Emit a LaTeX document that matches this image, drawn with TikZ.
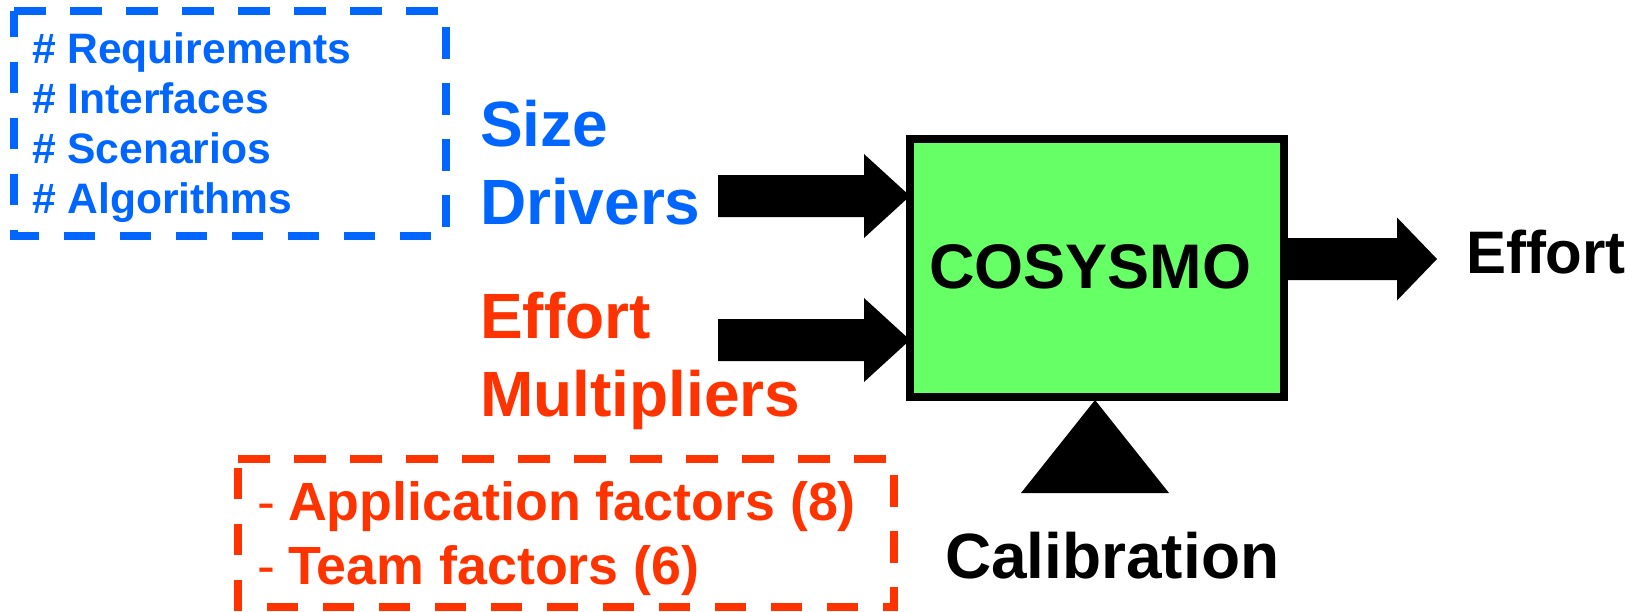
\documentclass[tikz,border=0pt]{standalone}
\usepackage{fontspec}
\setmainfont{Liberation Sans}
\usetikzlibrary{calc}
\definecolor{cblue}{HTML}{0066FF}
\definecolor{cred}{HTML}{FF3300}
\definecolor{cgreen}{HTML}{66FF66}
% block arrow: from, to, half shaft width, head length, half head width
\newcommand{\blockarrow}[5]{%
  \fill ($(#1)+(0,-#3)$) -- ($(#2)+(-#4,-#3)$) -- ($(#2)+(-#4,-#5)$) -- (#2)
    -- ($(#2)+(-#4,#5)$) -- ($(#2)+(-#4,#3)$) -- ($(#1)+(0,#3)$) -- cycle;}
\begin{document}
\begin{tikzpicture}[x=1pt,y=-1pt,
  txt/.style={inner sep=0pt, outer sep=0pt, anchor=base west},
  listblue/.style={txt, text=cblue, font=\fontsize{42.6}{50}\selectfont\bfseries},
  bigblue/.style={txt, text=cblue, font=\fontsize{64}{77}\selectfont\bfseries},
  bigred/.style={txt, text=cred, font=\fontsize{64}{77}\selectfont\bfseries},
  bigblack/.style={txt, text=black, font=\fontsize{64}{77}\selectfont\bfseries},
  listred/.style={txt, text=cred, font=\fontsize{53.8}{64}\selectfont\bfseries},
  dashbox/.style={line width=7.5pt, dash pattern=on 31.5pt off 24.5pt, line cap=butt}]
\useasboundingbox (0,0) rectangle (1639,611);

% size drivers list
\draw[dashbox, cblue] (14,11) -- (446,11) -- (446,236) -- (14,236) -- cycle;
\node[listblue] (req) at (32,63) {\# Requirements};
\node[listblue] (int) at (32,113) {\# Interfaces};
\node[listblue] (sce) at (32,163) {\# Scenarios};
\node[listblue] (alg) at (32,213) {\# Algorithms};

% effort multipliers list
\draw[dashbox, cred] (238,459) -- (894,459) -- (894,607) -- (238,607) -- cycle;
\node[listred] (app) at (257,520) {\makebox[31pt][l]{\mdseries -}Application factors (8)};
\node[listred] (team) at (257,584) {\makebox[31pt][l]{\mdseries -}Team factors (6)};

% labels
\node[bigblue] (size) at (480,146) {Size};
\node[bigblue] (drv) at (480,224) {Drivers};
\node[bigred] (eff) at (480,338) {Effort};
\node[bigred] (mul) at (480,416) {Multipliers};

% model box
\node[draw, line width=8pt, fill=cgreen, minimum width=374pt, minimum height=258pt,
      inner sep=0pt, outer sep=0pt] (cosy) at (1097,268) {};
\node[bigblack, font=\fontsize{63}{76}\selectfont\bfseries] (cosyt) at (929,288) {COSYSMO};

% input arrows
\coordinate (a1s) at (718,196);
\coordinate (a1e) at ($(cosy.west)+(0,-72)$);
\coordinate (a2s) at (718,340);
\coordinate (a2e) at ($(cosy.west)+(0,72)$);
\blockarrow{a1s}{a1e}{21}{46}{42}
\blockarrow{a2s}{a2e}{21}{46}{42}

% output arrow
\coordinate (a3s) at ($(cosy.east)+(0,-9)$);
\coordinate (a3e) at (1437,259);
\blockarrow{a3s}{a3e}{21}{40}{41.5}
\node[bigblack, font=\fontsize{60}{72}\selectfont\bfseries] (out) at (1466,273) {Effort};

% calibration
\coordinate (apex) at ($(cosy.south)+(-2,3)$);
\fill (apex) -- ++(-74,93) -- ++(148,0) -- cycle;
\node[bigblack] (cal) at (945,578) {Calibration};
\end{tikzpicture}
\end{document}
